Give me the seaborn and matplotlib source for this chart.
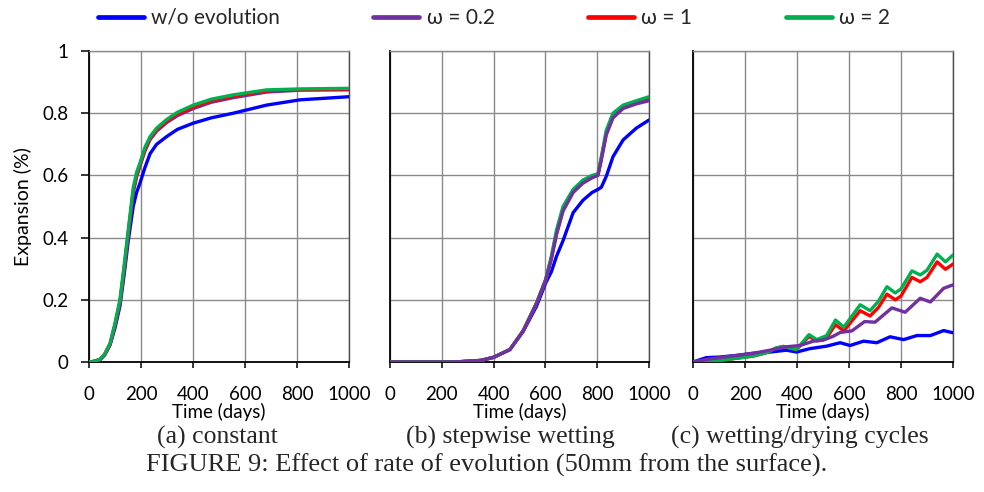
import matplotlib
matplotlib.use("Agg")
import matplotlib.pyplot as plt
import seaborn as sns
import pandas as pd
from matplotlib.lines import Line2D

# ---------------- data ----------------
series_names = ["w/o evolution", "ω = 0.2", "ω = 1", "ω = 2"]
series_colors = ["#0000FF", "#7030A0", "#FF0000", "#00B050"]

# (a) constant
days_a = [0, 20, 42, 60, 81, 100, 119, 135, 151, 170, 183, 196, 215, 235, 260, 299, 340, 401, 470, 555, 683, 812, 1000]
a_blue = [0, 0.002, 0.007, 0.022, 0.055, 0.11, 0.18, 0.28, 0.39, 0.50, 0.545, 0.575, 0.625, 0.67, 0.70, 0.725, 0.748, 0.768, 0.785, 0.80, 0.826, 0.843, 0.853]
a_purple = [0, 0.002, 0.008, 0.024, 0.057, 0.118, 0.19, 0.295, 0.41, 0.545, 0.595, 0.63, 0.678, 0.715, 0.742, 0.77, 0.792, 0.815, 0.835, 0.85, 0.868, 0.874, 0.875]
a_red = [0, 0.002, 0.008, 0.024, 0.058, 0.12, 0.195, 0.30, 0.415, 0.55, 0.60, 0.635, 0.683, 0.72, 0.746, 0.775, 0.797, 0.82, 0.84, 0.855, 0.872, 0.876, 0.878]
a_green = [0, 0.002, 0.008, 0.025, 0.06, 0.125, 0.20, 0.31, 0.425, 0.56, 0.61, 0.64, 0.69, 0.725, 0.752, 0.78, 0.803, 0.826, 0.845, 0.859, 0.875, 0.878, 0.88]

# (b) stepwise wetting
days_b = [0, 250, 350, 400, 463, 514, 566, 601, 623, 643, 668, 707, 745, 780, 803, 816, 835, 861, 900, 951, 1000]
b_blue = [0, 0, 0.005, 0.015, 0.04, 0.098, 0.18, 0.254, 0.29, 0.34, 0.39, 0.48, 0.52, 0.545, 0.555, 0.562, 0.597, 0.66, 0.714, 0.752, 0.778]
b_purple = [0, 0, 0.005, 0.015, 0.04, 0.10, 0.188, 0.262, 0.33, 0.41, 0.485, 0.545, 0.575, 0.592, 0.60, 0.65, 0.73, 0.785, 0.815, 0.83, 0.84]
b_red = [0, 0, 0.005, 0.015, 0.04, 0.10, 0.19, 0.265, 0.335, 0.415, 0.49, 0.548, 0.58, 0.596, 0.602, 0.655, 0.735, 0.79, 0.818, 0.833, 0.845]
b_green = [0, 0, 0.005, 0.015, 0.04, 0.10, 0.19, 0.265, 0.34, 0.425, 0.50, 0.555, 0.585, 0.60, 0.605, 0.66, 0.745, 0.80, 0.826, 0.84, 0.853]

# (c) wetting/drying cycles
days_c_blue = [0, 51, 103, 167, 231, 296, 360, 398, 450, 514, 566, 604, 656, 707, 758, 810, 861, 913, 964, 1000]
c_blue = [0, 0.014, 0.016, 0.021, 0.028, 0.032, 0.038, 0.032, 0.043, 0.051, 0.062, 0.053, 0.067, 0.062, 0.081, 0.072, 0.085, 0.085, 0.101, 0.094]
days_c_purple = [0, 50, 103, 167, 231, 296, 360, 411, 463, 500, 540, 566, 611, 660, 700, 765, 816, 874, 913, 964, 1000]
c_purple = [0, 0.008, 0.014, 0.021, 0.028, 0.038, 0.049, 0.053, 0.067, 0.07, 0.083, 0.095, 0.10, 0.13, 0.128, 0.174, 0.16, 0.205, 0.193, 0.237, 0.248]
days_c_wet = [0, 50, 103, 167, 231, 283, 320, 347, 398, 446, 476, 514, 548, 580, 643, 681, 713, 746, 778, 800, 842, 874, 900, 939, 971, 1000]
c_red = [0, 0.005, 0.005, 0.012, 0.019, 0.03, 0.045, 0.05, 0.04, 0.082, 0.068, 0.078, 0.12, 0.10, 0.165, 0.148, 0.175, 0.218, 0.20, 0.212, 0.272, 0.258, 0.272, 0.322, 0.298, 0.315]
c_green = [0, 0.005, 0.005, 0.012, 0.019, 0.03, 0.045, 0.05, 0.04, 0.088, 0.072, 0.085, 0.135, 0.112, 0.184, 0.165, 0.195, 0.242, 0.222, 0.235, 0.293, 0.28, 0.295, 0.347, 0.322, 0.344]

x_ticks = [0, 200, 400, 600, 800, 1000]
y_ticks = [0, 0.2, 0.4, 0.6, 0.8, 1.0]
y_tick_labels = ["0", "0.2", "0.4", "0.6", "0.8", "1"]
x_label = "Time (days)"
y_label = "Expansion (%)"
sub_captions = ["(a) constant", "(b) stepwise wetting", "(c) wetting/drying cycles"]
caption = "FIGURE 9: Effect of rate of evolution (50mm from the surface)."

# ---------------- style ----------------
sns.set_theme(style="white")
plt.rcParams["font.family"] = ["Lato", "DejaVu Sans"]

W, H = 984, 492
fig = plt.figure(figsize=(W / 100, H / 100), dpi=100)

def frac_box(l, r, t, b):
    return [l / W, 1 - b / H, (r - l) / W, (b - t) / H]

boxes = [frac_box(89, 349, 51, 362), frac_box(390, 649, 51, 362), frac_box(693, 953, 51, 362)]

panels = [
    [(days_a, a_blue, 0), (days_a, a_purple, 1), (days_a, a_red, 2), (days_a, a_green, 3)],
    [(days_b, b_blue, 0), (days_b, b_red, 2), (days_b, b_green, 3), (days_b, b_purple, 1)],
    [(days_c_blue, c_blue, 0), (days_c_wet, c_red, 2), (days_c_wet, c_green, 3), (days_c_purple, c_purple, 1)],
]

grid_color = "#8a8a8a"
tick_fs = 13.5
for i, (box, series) in enumerate(zip(boxes, panels)):
    ax = fig.add_axes(box)
    for z, (xs, ys, ci) in enumerate(series):
        df = pd.DataFrame({"day": xs, "exp": ys})
        sns.lineplot(data=df, x="day", y="exp", ax=ax, color=series_colors[ci],
                     lw=2.4, estimator=None, sort=False, zorder=3 + z)
    ax.set_xlim(0, 1000)
    ax.set_ylim(0, 1)
    ax.set_xticks(x_ticks)
    ax.set_xticklabels([str(t) for t in x_ticks], fontsize=tick_fs)
    ax.set_yticks(y_ticks)
    ax.grid(True, color=grid_color, lw=1.0)
    ax.set_axisbelow(True)
    ax.spines["top"].set_color(grid_color)
    ax.spines["top"].set_linewidth(1.0)
    ax.spines["right"].set_color("#4a4a4a")
    ax.spines["right"].set_linewidth(1.0)
    for s in ["left", "bottom"]:
        ax.spines[s].set_color("black")
        ax.spines[s].set_linewidth(1.3)
    ax.tick_params(axis="x", direction="out", length=4, width=1.1, color="black", pad=13, bottom=True)
    if i == 0:
        ax.set_yticklabels(y_tick_labels, fontsize=tick_fs)
        ax.tick_params(axis="y", direction="out", length=5.5, width=1.1, color="black", pad=9, left=True)
        ax.set_ylabel(y_label, fontsize=14, labelpad=8)
    else:
        ax.set_yticklabels([])
        ax.tick_params(axis="y", left=False)
        ax.set_ylabel("")
    ax.set_xlabel(x_label, fontsize=13.5, labelpad=0)
    for lab in ax.get_xticklabels() + ax.get_yticklabels():
        lab.set_color("black")
    ax.xaxis.label.set_color("black")
    ax.yaxis.label.set_color("black")

# legend
handles = [Line2D([0], [0], color=c, lw=3.4) for c in series_colors]
fig.legend(handles, series_names, loc="center", bbox_to_anchor=(494 / W, 1 - 18 / H),
           ncol=4, frameon=False, fontsize=15, handlelength=2.2, handletextpad=0.35,
           columnspacing=4.5, borderpad=0.1)

# captions
serif = ["Liberation Serif", "DejaVu Serif"]
for cx, txt in zip([217, 510, 800], sub_captions):
    fig.text(cx / W, 1 - 437 / H, txt, ha="center", va="center", fontsize=18.5, family=serif)
fig.text(487 / W, 1 - 465 / H, caption, ha="center", va="center", fontsize=19, family=serif)

fig.savefig("out.png", dpi=100)
